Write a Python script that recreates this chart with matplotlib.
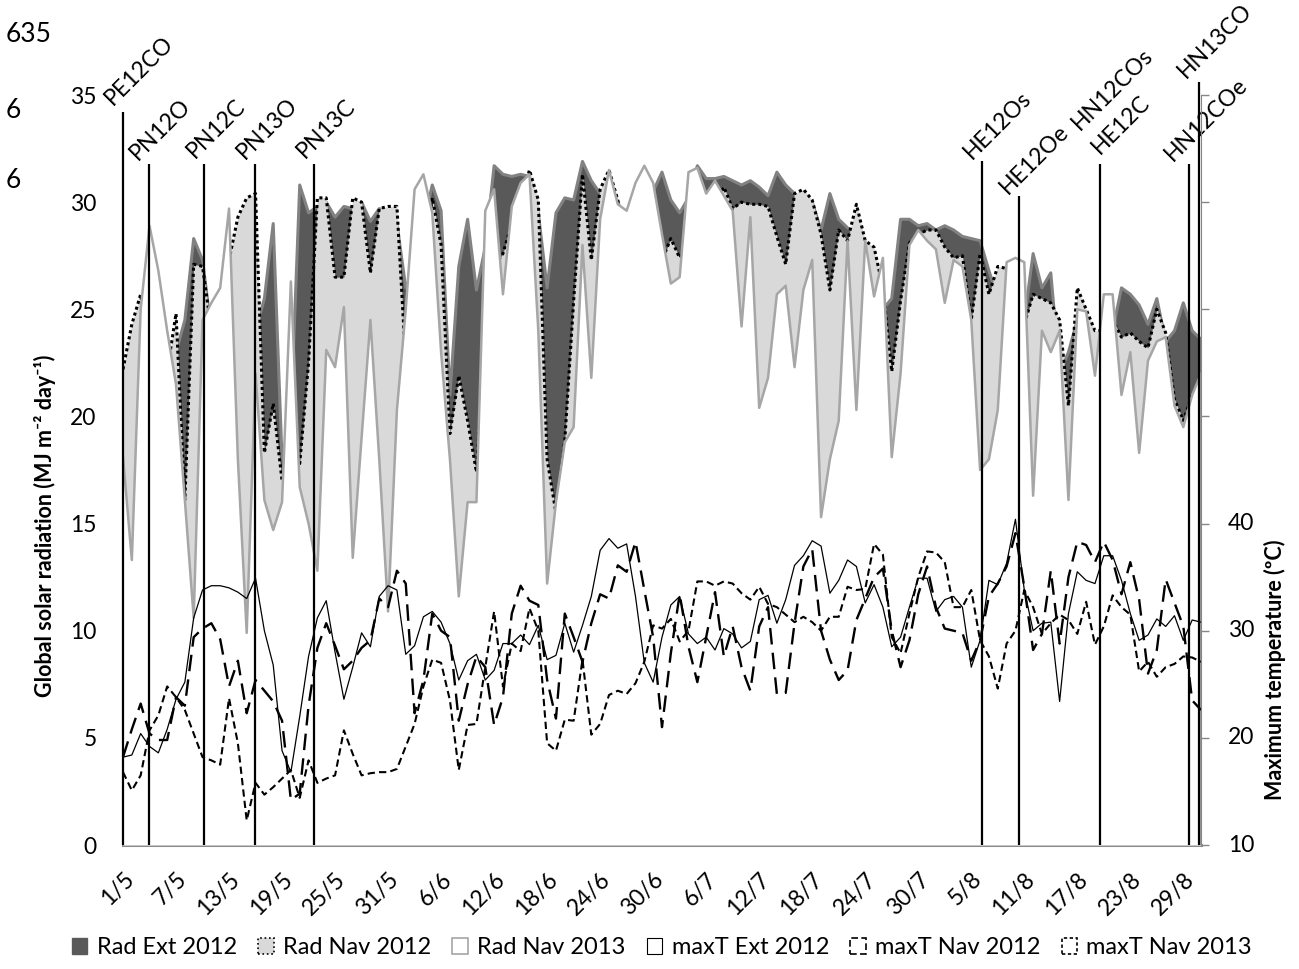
import matplotlib.pyplot as plt
import numpy as np
from matplotlib.patches import Patch

plt.rcParams['font.family'] = ['Lato', 'DejaVu Sans']

# daily values, 1/5 .. 31/8
days = np.arange(123)

tick_pos = np.arange(0, 121, 6)
tick_labels = ['1/5', '7/5', '13/5', '19/5', '25/5', '31/5', '6/6', '12/6', '18/6', '24/6',
               '30/6', '6/7', '12/7', '18/7', '24/7', '30/7', '5/8', '11/8', '17/8', '23/8', '29/8']
temp_ticks = [10, 20, 30, 40, 50, 60, 70, 80]
temp_tick_labels = ['10', '20', '30', '40']

# global solar radiation (MJ m-2 day-1)
rad_ext_2012 = [20, 21, 22, 24, 24, 22, 23, 24.5, 28.3, 27.3,
                24.0, 22, 25, 27, 28, 24, 25.5, 29.0, 18, 20,
                30.8, 29.5, 29.8, 30.0, 29.3, 29.8, 29.7, 30.0, 29.1, 29.7,
                29.5, 29.0, 26, 27, 29, 30.8, 29.6, 21, 27.0, 29.2,
                25.9, 27.9, 31.7, 31.3, 31.2, 31.3, 31.2, 29.5, 26, 29.5,
                30.2, 30.1, 31.9, 31.0, 30.4, 31.0, 30.0, 29, 29.5, 30,
                30.5, 31.4, 30.1, 29.5, 30.2, 31.7, 31.1, 31.1, 31.2, 31.0,
                30.8, 31.0, 30.7, 30.3, 31.4, 30.8, 30.4, 29.5, 30.0, 28.7,
                30.4, 29.2, 28.8, 28.5, 27.5, 27.0, 25.0, 25.5, 29.2, 29.2,
                28.9, 29.0, 28.7, 28.9, 28.7, 28.4, 28.3, 28.2, 26.8, 25.5,
                26.0, 25.5, 24.5, 27.6, 26.0, 26.7, 22, 23, 24.5, 23,
                21, 23, 24, 26.0, 25.7, 25.2, 24.3, 25.5, 23.5, 24.0,
                25.3, 24.0, 23.6]
rad_nav_2012 = [22.2, 24.3, 25.7, 22, 20, 22.1, 24.8, 16.1, 27.1, 27.0,
                24, 23, 27.3, 29.3, 30.2, 30.4, 18.3, 20.6, 17.0, 18,
                17.8, 22.5, 30.2, 30.2, 26.5, 26.5, 30.2, 30.0, 26.7, 29.7,
                29.8, 29.8, 22.5, 24, 27, 30.2, 28.0, 19.2, 21.9, 19.8,
                17.4, 24, 27, 27.6, 29.0, 30.0, 31.5, 30.1, 18.0, 15.5,
                18.9, 25.4, 31.3, 27.3, 30.6, 31.5, 30.1, 28, 28.5, 29,
                29, 27.3, 28.3, 27.4, 28, 29, 29.5, 30, 30.7, 29.7,
                30.0, 29.9, 29.9, 29.8, 28.4, 27.1, 30.4, 30.6, 30.1, 28.5,
                25.9, 28.7, 28.2, 29.9, 28.2, 27.9, 26.0, 22.1, 25.4, 28.1,
                28.5, 28.7, 28.7, 27.9, 27.4, 27.5, 24.5, 27.6, 25.7, 27.0,
                26.9, 24.5, 24.3, 25.7, 25.5, 25.3, 24.5, 20.5, 26.0, 25.0,
                24.0, 24.0, 24.5, 23.7, 23.9, 23.5, 23.2, 25.0, 23.9, 20.8,
                19.8, 21.0, 21.5]
rad_nav_2013 = [18.1, 13.3, 25.0, 28.9, 26.8, 24.0, 21.5, 16.1, 10.6, 24.5,
                25.3, 26.0, 29.7, 18, 9.9, 22, 16.1, 14.7, 16.0, 26.3,
                16.7, 15.0, 12.8, 23.1, 22.3, 25.1, 13.4, 19, 24.5, 18,
                10.9, 20.3, 25, 30.6, 31.3, 29.5, 23, 18, 11.6, 16.0,
                16.0, 29.6, 30.6, 25.7, 29.8, 30.9, 31.3, 24, 12.2, 16,
                18.8, 19.5, 28, 21.8, 29.2, 31.5, 29.9, 29.6, 30.9, 31.7,
                30.9, 28.5, 26.2, 26.5, 31.4, 31.6, 30.4, 31.0, 30.3, 29.6,
                24.2, 29.3, 20.4, 21.8, 25.7, 26.1, 22.3, 25.9, 27.3, 15.3,
                18.0, 19.8, 28.2, 20.3, 28.2, 25.6, 27.4, 18.1, 22, 28.0,
                28.7, 28.2, 27.8, 25.3, 27.3, 27.0, 24.5, 17.5, 18.0, 20.3,
                27.2, 27.4, 27.2, 16.3, 24.0, 23.0, 24.0, 16.1, 25.0, 24.9,
                21.9, 25.7, 25.7, 21.0, 23.0, 18.3, 22.6, 23.5, 23.7, 20.5,
                19.5, 21.0, 22.0]

# maximum temperature (ºC)
tmax_ext_2012 = [18.2, 18.4, 20.4, 19.2, 18.6, 20.8, 23.6, 25.2, 31.2, 33.8,
                 34.2, 34.2, 34.0, 33.6, 33.0, 34.9, 30.0, 26.8, 18.8, 16.8,
                 22.0, 27.6, 31.2, 32.8, 28.0, 23.6, 26.6, 29.8, 28.5, 33.2,
                 34.2, 33.8, 27.8, 28.6, 31.3, 31.8, 30.8, 28.8, 25.4, 27.2,
                 27.8, 25.4, 26.3, 28.8, 28.8, 29.6, 28.7, 30.5, 27.3, 27.7,
                 30.7, 28.0, 30.5, 33.2, 37.5, 38.6, 37.7, 38.1, 33.2, 27.0,
                 25.2, 29.4, 32.4, 33.2, 29.7, 28.8, 29.4, 28.2, 30.2, 29.7,
                 28.4, 29.0, 32.9, 33.3, 30.7, 32.9, 36.1, 37.0, 38.4, 37.9,
                 33.5, 34.7, 36.6, 36.0, 32.6, 34.3, 32.2, 28.5, 29.4, 32.2,
                 34.9, 34.9, 31.8, 32.9, 33.2, 32.2, 26.6, 29.1, 34.7, 34.3,
                 36.3, 40.4, 33.8, 30.0, 30.7, 30.8, 23.4, 31.6, 35.5, 34.7,
                 34.4, 37.0, 37.0, 34.7, 31.6, 29.1, 29.6, 31.1, 30.4, 31.4,
                 29.1, 31.0, 30.8]
tmax_nav_2012 = [18.2, 20.8, 23.2, 20.4, 19.8, 19.8, 23.8, 23.0, 29.4, 30.2,
                 30.7, 29.2, 24.8, 27.2, 22.3, 25.4, 24.4, 23.4, 21.6, 14.2,
                 14.8, 23.0, 28.4, 30.7, 28.6, 26.4, 27.2, 28.4, 29.1, 33.0,
                 32.2, 35.6, 34.4, 22.3, 25.4, 31.6, 30.0, 29.4, 21.6, 25.0,
                 27.6, 26.6, 21.2, 23.8, 31.6, 34.2, 32.8, 32.4, 25.4, 21.8,
                 31.6, 29.4, 27.1, 30.7, 33.4, 33.0, 36.1, 35.5, 38.3, 33.8,
                 29.4, 21.0, 27.9, 33.4, 28.5, 25.2, 29.4, 33.6, 27.6, 30.4,
                 26.6, 24.4, 30.4, 32.2, 24.1, 24.2, 30.7, 36.0, 37.6, 30.0,
                 27.3, 25.4, 26.3, 31.0, 33.0, 35.0, 35.8, 30.0, 26.6, 29.1,
                 33.4, 36.0, 32.2, 30.2, 30.0, 29.8, 27.2, 29.1, 33.2, 34.4,
                 36.0, 39.1, 34.1, 28.2, 29.7, 35.6, 28.8, 35.0, 38.3, 38.0,
                 36.4, 38.3, 36.6, 33.4, 36.4, 32.9, 26.0, 28.2, 34.8, 32.6,
                 30.4, 23.5, 22.6]
tmax_nav_2013 = [16.8, 15.1, 16.5, 20.7, 22.1, 24.8, 23.8, 22.6, 20.4, 18.2,
                 17.9, 17.5, 23.7, 19.5, 12.3, 15.8, 14.7, 15.4, 16.2, 17.0,
                 14.4, 17.9, 15.8, 16.2, 16.5, 20.7, 18.5, 16.5, 16.7, 16.8,
                 16.8, 17.1, 19.2, 21.3, 24.8, 27.3, 27.0, 23.5, 17.0, 21.2,
                 21.3, 26.6, 31.8, 24.8, 28.8, 28.1, 32.1, 30.0, 19.5, 18.8,
                 21.7, 21.6, 27.3, 20.3, 21.3, 24.0, 24.4, 24.1, 25.1, 27.1,
                 30.5, 30.2, 31.1, 29.0, 30.0, 34.6, 34.6, 34.2, 34.6, 34.4,
                 33.5, 32.9, 34.1, 32.5, 32.2, 31.5, 30.8, 31.3, 30.8, 30.0,
                 31.3, 31.3, 34.1, 33.8, 33.9, 38.1, 37.1, 29.4, 27.9, 31.6,
                 35.0, 37.4, 37.3, 36.4, 32.2, 32.2, 33.8, 29.1, 27.6, 24.6,
                 28.8, 30.0, 33.8, 32.2, 29.7, 30.7, 31.5, 31.0, 29.7, 32.7,
                 28.7, 30.4, 33.3, 32.2, 31.5, 26.2, 27.1, 25.7, 26.6, 26.9,
                 27.6, 27.5, 27.1]

# sampling events: day index and top of the marker line (radiation units)
event_names = ['PE12CO', 'PN12O', 'PN12C', 'PN13O', 'PN13C',
               'HE12Os', 'HE12Oe', 'HE12C', 'HN12COe', 'HN13CO']
event_days = [0, 2.9, 9.2, 14.9, 21.6, 97.2, 101.4, 110.6, 120.6, 121.8]
event_tops = [34.2, 31.8, 31.8, 31.8, 31.8, 31.9, 30.3, 31.8, 31.8, 35.6]
# label offsets in pixels (dx, dy up)
label_offsets = [(-10, 6), (-11, 3), (-9, 5), (-10, 4), (-9, 5),
                 (-10, 1), (-11, 1), (0, 9), (-16, 2), (-13, 3)]

W, H = 1299, 969
fig = plt.figure(figsize=(W / 100, H / 100), dpi=100)
ax = fig.add_axes([123 / W, 1 - 845 / H, (1201 - 123) / W, (845 - 95) / H])
ax.set_xlim(0, 122)
ax.set_ylim(0, 35)


def edge(vals):
    return np.r_[days, days[-1]], np.r_[vals, 0]


ax.fill_between(days, 0, rad_ext_2012, color='#595959', lw=0, zorder=1)
ax.plot(*edge(rad_ext_2012), color='#828282', lw=2.2, zorder=1.5)
ax.fill_between(days, 0, rad_nav_2012, color='#d9d9d9', lw=0, zorder=2)
ax.plot(*edge(rad_nav_2012), color='black', lw=2.2, ls=(0, (1, 1)), zorder=2.5)
ax.fill_between(days, 0, rad_nav_2013, color='white', lw=0, zorder=3)
ax.plot(*edge(rad_nav_2013), color='#a6a6a6', lw=1.8, zorder=3.5)

vl = ax.vlines(event_days, 0, event_tops, colors='black', lw=1.6, zorder=6)
vl.set_clip_on(False)
for name, d, top, (dx, dy) in zip(event_names, event_days, event_tops, label_offsets):
    ax.annotate(name, (d, top), xytext=(dx * 0.72, dy * 0.72), textcoords='offset points',
                rotation=45, rotation_mode='anchor', ha='left', va='baseline',
                fontsize=16.5, annotation_clip=False)
# second label sharing the HE12C line
ax.annotate('HN12COs', (event_days[7], event_tops[7]), xytext=(-20 * 0.72, 33 * 0.72),
            textcoords='offset points', rotation=45, rotation_mode='anchor',
            ha='left', va='baseline', fontsize=16.5, annotation_clip=False)

for s in ['top', 'left', 'right']:
    ax.spines[s].set_visible(False)
ax.spines['bottom'].set_color('#8c8c8c')
ax.spines['bottom'].set_linewidth(2.2)
ax.set_yticks(range(0, 36, 5))
ax.tick_params(axis='y', length=0, pad=19, labelsize=16.5)
ax.set_xticks(tick_pos)
ax.set_xticklabels(tick_labels, rotation=45, ha='right', va='top', rotation_mode='anchor')
ax.tick_params(axis='x', length=0, pad=17, labelsize=16.5)

ax2 = ax.twinx()
ax2.set_ylim(10, 80)
ax2.plot(days, tmax_ext_2012, color='black', lw=0.9)
ax2.plot(days, tmax_nav_2012, color='black', lw=1.7, dashes=(7, 3.5))
ax2.plot(days, tmax_nav_2013, color='black', lw=1.5, dashes=(3.5, 2))
for s in ['top', 'left', 'bottom']:
    ax2.spines[s].set_visible(False)
ax2.spines['right'].set_color('#868686')
ax2.set_yticks(temp_ticks)
ax2.tick_params(axis='y', length=6, width=1, color='#868686', labelright=False)
# temperature tick labels, only the lower ones are shown
for v, txt in zip(temp_ticks, temp_tick_labels):
    ax2.annotate(txt, (1, v), xycoords=('axes fraction', 'data'), xytext=(27 * 0.72, 0),
                 textcoords='offset points', ha='left', va='center', fontsize=16.5)

fig.text(45 / W, 1 - 526 / H, 'Global solar radiation (MJ m⁻² day⁻¹)', rotation=90,
         ha='center', va='center', fontsize=15.5, fontweight='bold')
fig.text(1275 / W, 1 - 670 / H, 'Maximum temperature (ºC)', rotation=90,
         ha='center', va='center', fontsize=15.5, fontweight='bold')

fig.text(6 / W, 1 - 35 / H, '635', fontsize=19, va='center')
fig.text(6 / W, 1 - 110 / H, '6', fontsize=19, va='center')
fig.text(6 / W, 1 - 180 / H, '6', fontsize=19, va='center')

handles = [Patch(facecolor='#595959', edgecolor='#595959'),
           Patch(facecolor='#d9d9d9', edgecolor='black', linestyle=':', lw=1.2),
           Patch(facecolor='white', edgecolor='#a6a6a6', lw=1.2),
           Patch(facecolor='white', edgecolor='black', lw=0.8),
           Patch(facecolor='white', edgecolor='black', linestyle=(0, (4, 2)), lw=1.2),
           Patch(facecolor='white', edgecolor='black', linestyle=(0, (2, 1.5)), lw=1.2)]
labels = ['Rad Ext 2012', 'Rad Nav 2012', 'Rad Nav 2013',
          'maxT Ext 2012', 'maxT Nav 2012', 'maxT Nav 2013']
fig.legend(handles, labels, loc='center', bbox_to_anchor=(662 / W, 1 - 948 / H), ncol=6,
           frameon=False, fontsize=17, handlelength=0.65, handleheight=0.65,
           handletextpad=0.4, columnspacing=0.9)

fig.savefig('out.png', dpi=100)
